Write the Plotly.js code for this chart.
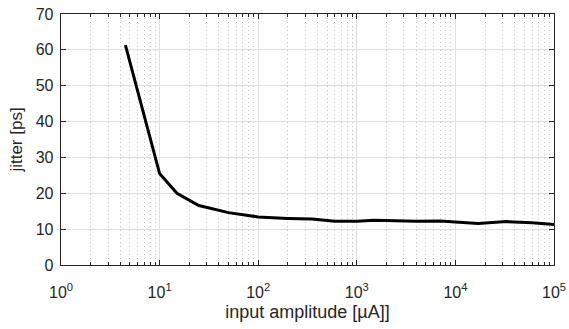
<!DOCTYPE html>
<html>
<head>
<meta charset="utf-8">
<script src="https://cdn.plot.ly/plotly-3.0.1.min.js"></script>
<style>html,body{margin:0;padding:0;background:#fff;}#chart{width:569px;height:329px;}</style>
</head>
<body>
<div id="chart"></div>
<script>
const amplitude = [4.5, 10, 15, 25, 50, 100, 200, 350, 600, 1000, 1500, 2500, 4000, 7000, 10000, 17000, 33000, 60000, 100000];
const jitter = [61.3, 25.5, 20.0, 16.6, 14.6, 13.4, 13.0, 12.8, 12.2, 12.2, 12.5, 12.3, 12.2, 12.3, 12.1, 11.6, 12.1, 11.8, 11.3];
const xTickVals = [1, 10, 100, 1000, 10000, 100000];
const xTickText = ['10<sup>0</sup>', '10<sup>1</sup>', '10<sup>2</sup>', '10<sup>3</sup>', '10<sup>4</sup>', '10<sup>5</sup>'];
const yTickVals = [0, 10, 20, 30, 40, 50, 60, 70];
const xMinorVals = [2,3,4,5,6,7,8,9,20,30,40,50,60,70,80,90,200,300,400,500,600,700,800,900,2000,3000,4000,5000,6000,7000,8000,9000,20000,30000,40000,50000,60000,70000,80000,90000];

const axisColor = '#262626';
const trace = {
  x: amplitude, y: jitter, type: 'scatter', mode: 'lines',
  line: {color: '#000000', width: 3}, hoverinfo: 'skip'
};
const layout = {
  width: 569, height: 329,
  margin: {l: 61, r: 15, t: 14, b: 64},
  paper_bgcolor: '#ffffff', plot_bgcolor: '#ffffff',
  showlegend: false,
  font: {family: 'Liberation Sans, Arial, sans-serif', color: axisColor, size: 16},
  xaxis: {
    type: 'log', range: [0, 5],
    tickvals: xTickVals, ticktext: xTickText,
    ticks: 'inside', ticklen: 5, tickwidth: 1, tickcolor: axisColor,
    showline: true, linecolor: axisColor, linewidth: 1.3, mirror: 'ticks',
    showgrid: true, gridcolor: '#e0e0e0', gridwidth: 1,
    zeroline: false,
    tickfont: {size: 16},
    ticklabelstandoff: 12,
    minor: {ticks: 'inside', ticklen: 3, tickcolor: axisColor, showgrid: true, gridcolor: '#c8c8c8', griddash: '1px,3px', gridwidth: 1,
            tickvals: xMinorVals},
    title: {text: 'input amplitude [µA]]', font: {size: 18}, standoff: 6}
  },
  yaxis: {
    range: [0, 70], tickvals: yTickVals,
    ticks: 'inside', ticklen: 5, tickwidth: 1, tickcolor: axisColor,
    showline: true, linecolor: axisColor, linewidth: 1.3, mirror: 'ticks',
    showgrid: true, gridcolor: '#e0e0e0', gridwidth: 1,
    zeroline: false,
    tickfont: {size: 16},
    ticklabelstandoff: 3,
    title: {text: 'jitter [ps]', font: {size: 17}, standoff: 8}
  }
};
Plotly.newPlot('chart', [trace], layout, {staticPlot: true, displayModeBar: false});
</script>
</body>
</html>
